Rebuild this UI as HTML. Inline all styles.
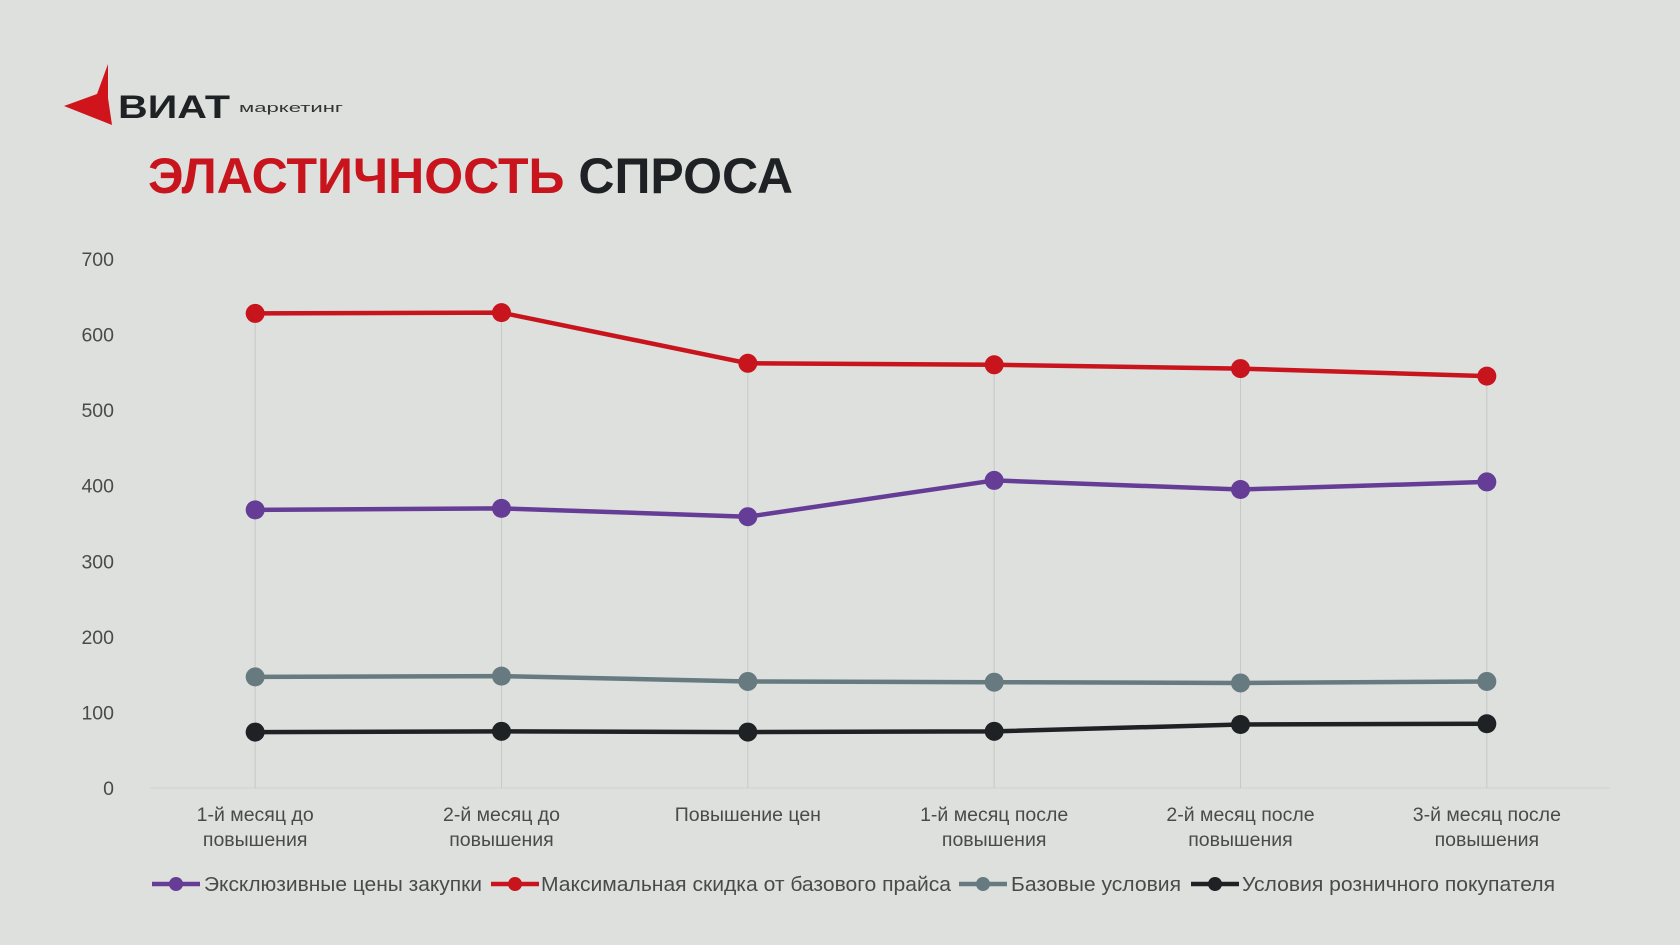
<!DOCTYPE html>
<html><head><meta charset="utf-8"><style>
html,body{margin:0;padding:0;background:#dde0dd;}
svg{display:block;font-family:"Liberation Sans",sans-serif;}
</style></head><body>
<svg id="chart" width="1680" height="945" viewBox="0 0 1680 945">
<rect width="1680" height="945" fill="#dde0dd"/>
<g>
<polygon points="108,64 97,94 64,106 112,125 108,98" fill="#d0141c"/>
<text x="118" y="118" font-size="32" font-weight="bold" fill="#1e2224" textLength="112" lengthAdjust="spacingAndGlyphs">ВИАТ</text>
<text x="239" y="112" font-size="13" fill="#333" textLength="104" lengthAdjust="spacingAndGlyphs">маркетинг</text>
</g>
<text x="148" y="193" font-size="50" font-weight="bold" textLength="645" lengthAdjust="spacingAndGlyphs"><tspan fill="#c8141c">ЭЛАСТИЧНОСТЬ</tspan><tspan fill="#1e2224"> СПРОСА</tspan></text>
<g id="plot"></g>
</svg>
<script>
const categories=[["1-й месяц до","повышения"],["2-й месяц до","повышения"],["Повышение цен",""],["1-й месяц после","повышения"],["2-й месяц после","повышения"],["3-й месяц после","повышения"]];
const seriesNames=["Эксклюзивные цены закупки","Максимальная скидка от базового прайса","Базовые условия","Условия розничного покупателя"];
const purpleValues=[368,370,359,407,395,405];
const redValues=[628,629,562,560,555,545];
const grayValues=[147,148,141,140,139,141];
const blackValues=[74,75,74,75,84,85];
const yTicks=[0,100,200,300,400,500,600,700];

const NS="http://www.w3.org/2000/svg";
const plot=document.getElementById('plot');
const x0=132,x1=1610,yTop=259,yBot=788,yMax=700;
const step=(x1-x0)/categories.length;
function xs(i){return x0+step*(i+0.5);}
function ys(v){return yBot-(v/yMax)*(yBot-yTop);}
function mk(tag,attrs,parent){const e=document.createElementNS(NS,tag);for(const k in attrs)e.setAttribute(k,attrs[k]);(parent||plot).appendChild(e);return e;}

yTicks.forEach(t=>{
  const e=mk('text',{x:114,y:ys(t)+7,'font-size':19.5,fill:'#4a4a4a','text-anchor':'end'});
  e.textContent=t;
  
  
});
const ax=mk('line',{x1:150,x2:x1,y1:yBot,y2:yBot,stroke:'#d0d3d0','stroke-width':1});


categories.forEach((c,i)=>{
  const g=mk('line',{x1:xs(i),x2:xs(i),y1:ys(redValues[i]),y2:yBot,stroke:'#c6c9c6','stroke-width':1});
  
  
  const t=mk('text',{x:xs(i),y:821,'font-size':19.5,fill:'#4a4a4a','text-anchor':'middle'});
  
  
  const a=mk('tspan',{x:xs(i),dy:0},t);a.textContent=c[0];
  if(c[1]){const b=mk('tspan',{x:xs(i),dy:25},t);b.textContent=c[1];}
});
const series=[[purpleValues,'#653c96','purple'],[redValues,'#c8141c','red'],[grayValues,'#667a80','gray'],[blackValues,'#1e2224','black']];
[series[2],series[3],series[0],series[1]].forEach(([vals,col,nm])=>{
  const pts=vals.map((v,i)=>xs(i)+','+ys(v)).join(' ');
  const pl=mk('polyline',{points:pts,fill:'none',stroke:col,'stroke-width':4.5,'stroke-linejoin':'round'});
  
  
  vals.forEach((v,i)=>{
    const c=mk('circle',{cx:xs(i),cy:ys(v),r:9.5,fill:col});
    
    
  });
});
// legend
const legX=[152,491,959,1191],legTX=[204,541,1011,1242],legW=[278,410,170,313];
series.forEach(([vals,col,nm],k)=>{
  const lx=legX[k],ly=884;
  const l=mk('line',{x1:lx,x2:lx+48,y1:ly,y2:ly,stroke:col,'stroke-width':4.5});
  
  
  const c=mk('circle',{cx:lx+24,cy:ly,r:7,fill:col});
  
  
  const t=mk('text',{x:legTX[k],y:ly+7,'font-size':20,fill:'#4a4a4a',textLength:legW[k],lengthAdjust:'spacingAndGlyphs'});
  t.textContent=seriesNames[k];
  
  
});
</script>
</body></html>
